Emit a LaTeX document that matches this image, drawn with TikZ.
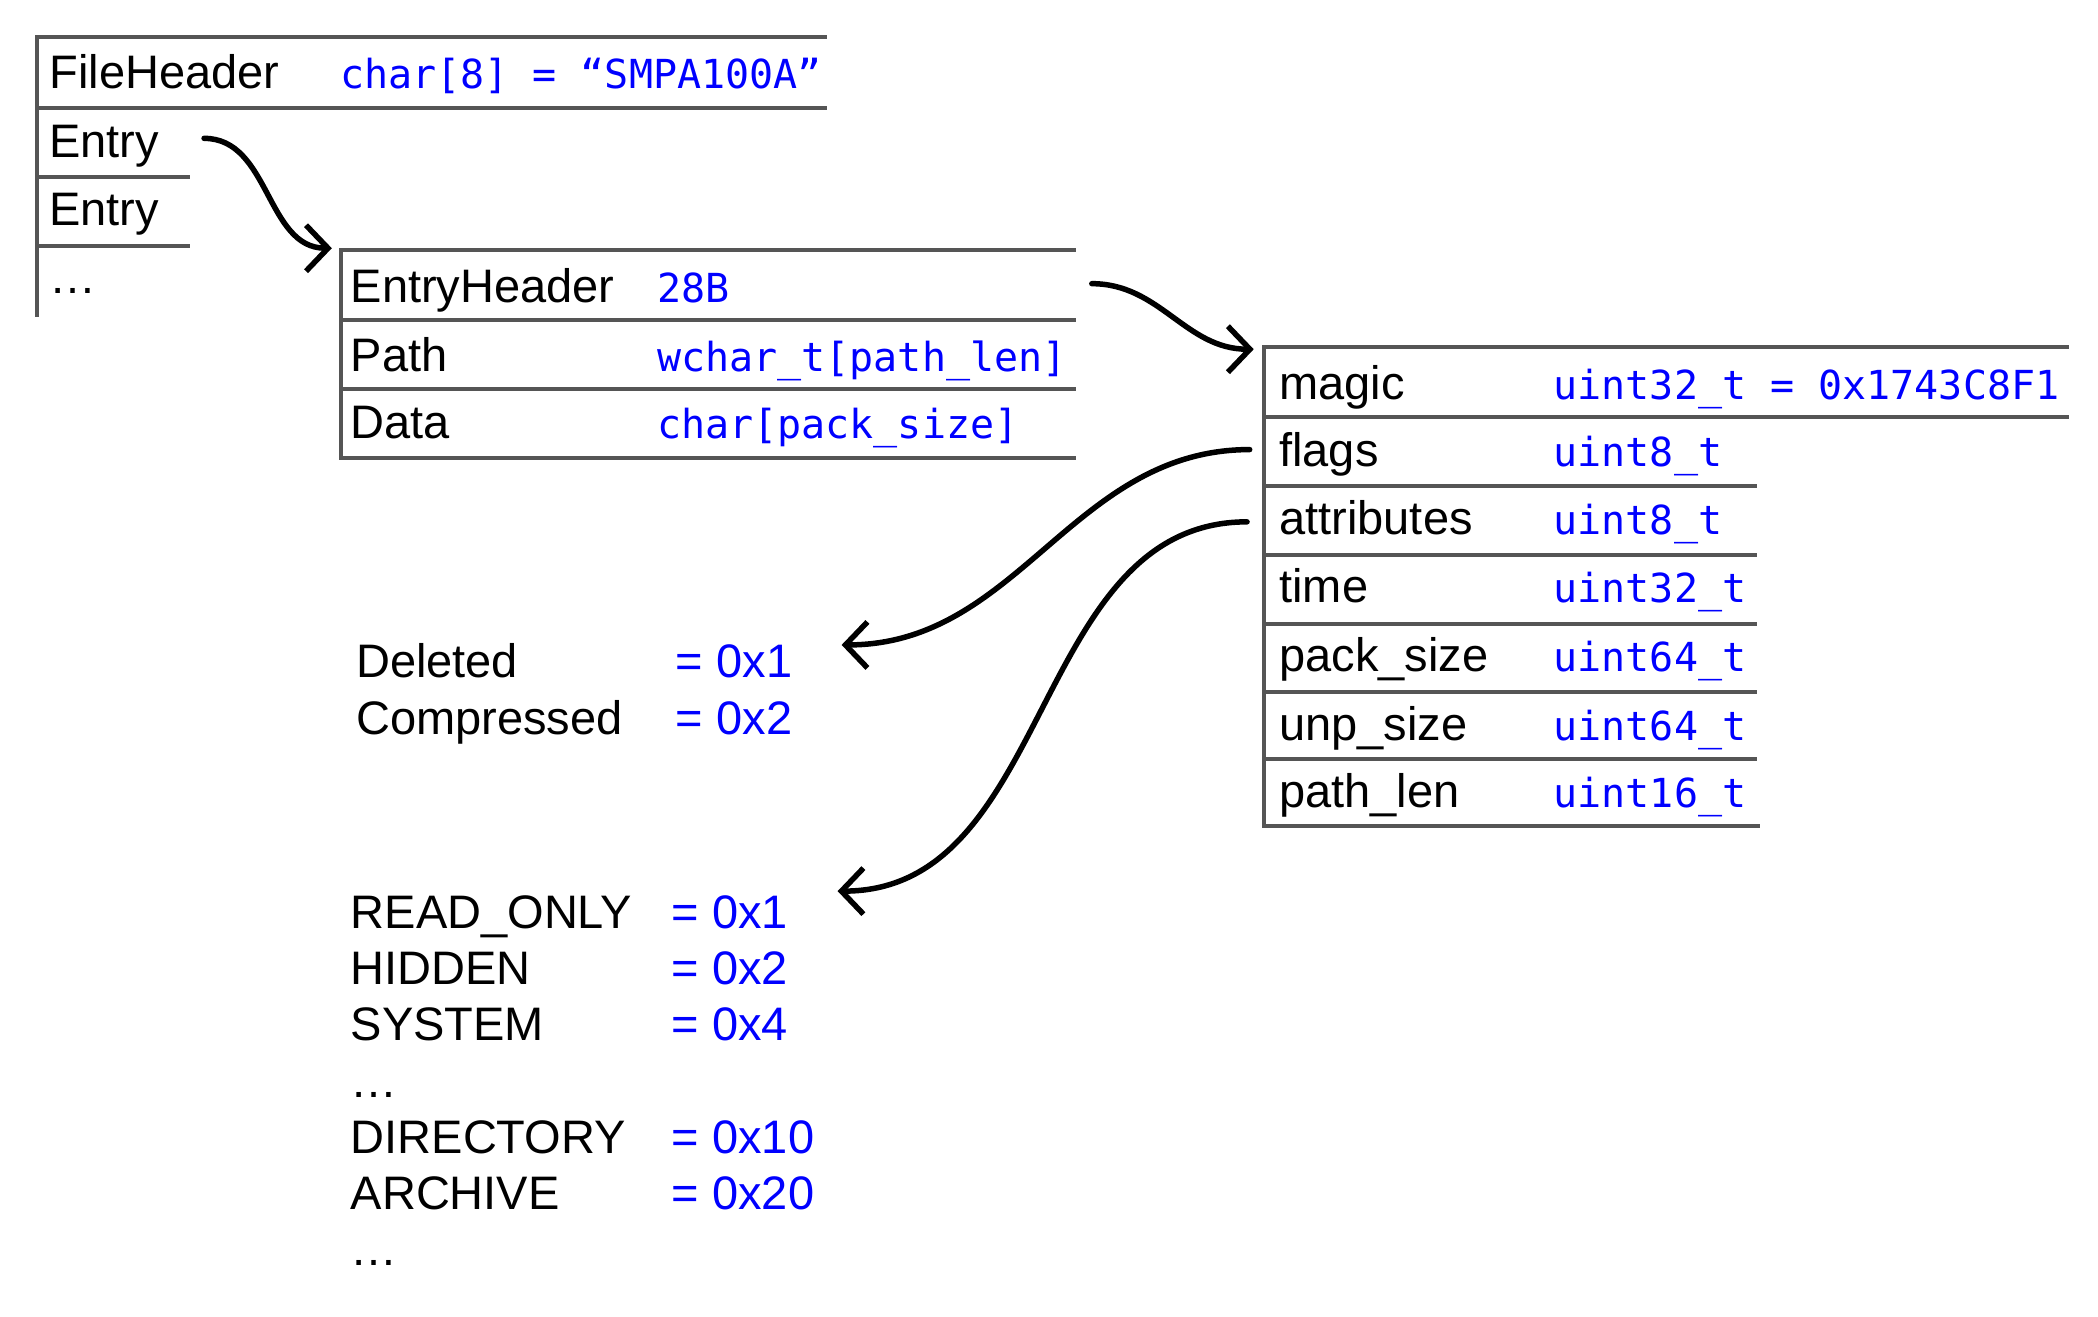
\documentclass[tikz,border=0pt]{standalone}
\usepackage{fontspec}
\setmainfont{Liberation Sans}
\newfontfamily\monof{DejaVu Sans Mono}
\usetikzlibrary{arrows.meta}
\definecolor{boxgray}{HTML}{555555}
\definecolor{typeblue}{HTML}{0000FF}
\begin{document}
\begin{tikzpicture}[x=1.338pt,y=-1.338pt,
  lbl/.style={anchor=base west,inner sep=0pt,font=\fontsize{47}{56}\selectfont},
  typ/.style={anchor=base west,inner sep=0pt,text=typeblue,font=\fontsize{40}{48}\monof},
  val/.style={anchor=base west,inner sep=0pt,text=typeblue,font=\fontsize{47}{56}\selectfont},
  grid/.style={draw=boxgray,line width=4pt},
  link/.style={draw=black,line width=5.5pt,line cap=round,
    -{Straight Barb[length=22pt,width=46pt,line width=5.5pt]}}]
\useasboundingbox (0,0) rectangle (1568,984);

% ---------- FileHeader block ----------
\draw[grid] (618,27.9) -- (28,27.9) -- (28,236.7);
\draw[grid] (28,80.5) -- (618,80.5);
\draw[grid] (28,132.5) -- (142,132.5);
\draw[grid] (28,183.9) -- (142,183.9);
\node[lbl] (fh) at (36.8,66.5) {FileHeader};
\node[typ] (fhT) at (254,66.5) {char[8] = “SMPA100A”};
\node[lbl] (en1) at (36.8,117.4) {Entry};
\node[lbl] (en2) at (36.8,168.3) {Entry};
\node[lbl] (endots) at (36.8,219) {…};

% ---------- Entry block ----------
\draw[grid] (804,186.8) -- (255,186.8) -- (255,342) -- (804,342);
\draw[grid] (255,239.2) -- (804,239.2);
\draw[grid] (255,291) -- (804,291);
\node[lbl] (eh) at (262,226) {EntryHeader};
\node[typ] (ehT) at (491,226) {28B};
\node[lbl] (pa) at (262,277.3) {Path};
\node[typ] (paT) at (491,277.3) {wchar\_t[path\_len]};
\node[lbl] (da) at (262,328) {Data};
\node[typ] (daT) at (491,328) {char[pack\_size]};

% ---------- EntryHeader block ----------
\draw[grid] (1546,259.5) -- (945,259.5) -- (945,617.5) -- (1315,617.5);
\draw[grid] (945,312) -- (1546,312);
\draw[grid] (945,363.5) -- (1313,363.5);
\draw[grid] (945,415) -- (1313,415);
\draw[grid] (945,466) -- (1313,466);
\draw[grid] (945,517.5) -- (1313,517.5);
\draw[grid] (945,567.5) -- (1313,567.5);
\node[lbl] (mg) at (956,298.3) {magic};
\node[typ] (mgT) at (1161,298.3) {uint32\_t = 0x1743C8F1};
\node[lbl] (fl) at (956,348.5) {flags};
\node[typ] (flT) at (1161,348.5) {uint8\_t};
\node[lbl] (at) at (956,399.3) {attributes};
\node[typ] (atT) at (1161,399.3) {uint8\_t};
\node[lbl] (tm) at (956,450.3) {time};
\node[typ] (tmT) at (1161,450.3) {uint32\_t};
\node[lbl] (ps) at (956,501.5) {pack\_size};
\node[typ] (psT) at (1161,501.5) {uint64\_t};
\node[lbl] (us) at (956,553.5) {unp\_size};
\node[typ] (usT) at (1161,553.5) {uint64\_t};
\node[lbl] (pl) at (956,603.3) {path\_len};
\node[typ] (plT) at (1161,603.3) {uint16\_t};

% ---------- flags values ----------
\node[lbl] (fd) at (266,506.5) {Deleted};
\node[val] (fdV) at (505,506.5) {= 0x1};
\node[lbl] (fc) at (266,549) {Compressed};
\node[val] (fcV) at (505,549) {= 0x2};

% ---------- attribute values ----------
\node[lbl] (ar) at (262,694) {READ\_ONLY};
\node[val] (arV) at (502,694) {= 0x1};
\node[lbl] (ah) at (262,736) {HIDDEN};
\node[val] (ahV) at (502,736) {= 0x2};
\node[lbl] (as) at (262,778) {SYSTEM};
\node[val] (asV) at (502,778) {= 0x4};
\node[lbl] (adots1) at (262,820) {…};
\node[lbl] (ad) at (262,862) {DIRECTORY};
\node[val] (adV) at (502,862) {= 0x10};
\node[lbl] (aa) at (262,904) {ARCHIVE};
\node[val] (aaV) at (502,904) {= 0x20};
\node[lbl] (adots2) at (262,946) {…};

% ---------- connectors ----------
\coordinate (c1s) at (152.5,103.4);
\coordinate (c1e) at (248,185.5);
\coordinate (c2s) at (816,212);
\coordinate (c2e) at (937,261);
\coordinate (c3s) at (934,336);
\coordinate (c3e) at (629,482);
\coordinate (c4s) at (932,390);
\coordinate (c4e) at (626,666);
\draw[link] (c1s) to[out=0,in=180] (c1e);
\draw[link] (c2s) to[out=0,in=180] (c2e);
\draw[link] (c3s) to[out=180,in=0] (c3e);
\draw[link] (c4s) to[out=180,in=0] (c4e);
\end{tikzpicture}
\end{document}
